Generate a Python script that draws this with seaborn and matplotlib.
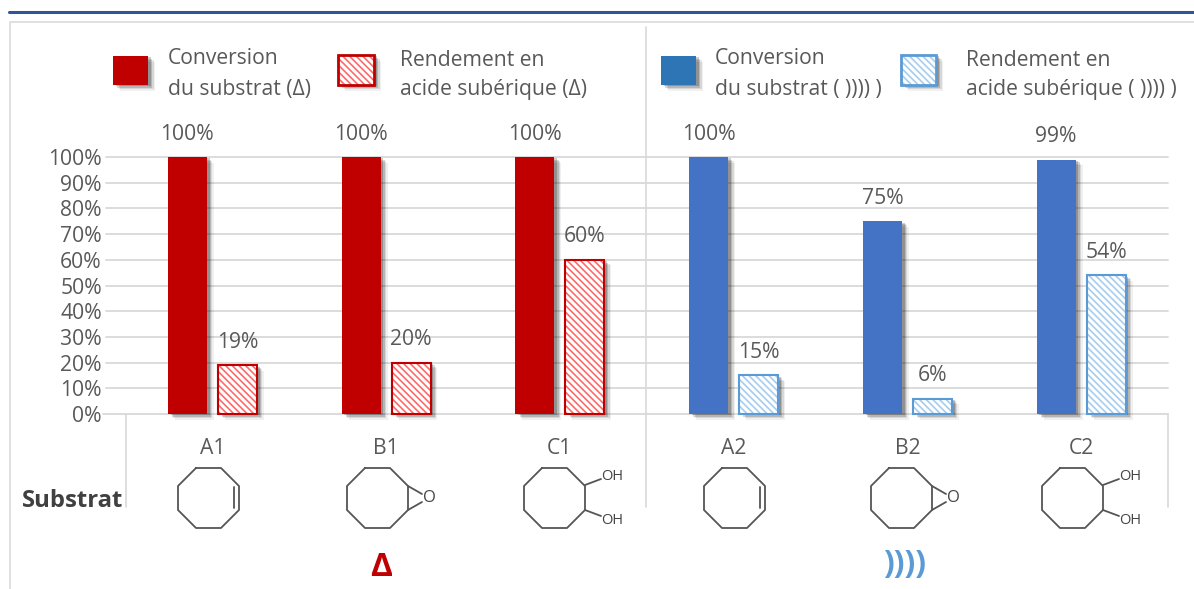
import matplotlib
matplotlib.use("Agg")
import matplotlib.pyplot as plt
import matplotlib.patheffects as pe
from matplotlib.patches import Rectangle
import pandas as pd
import seaborn as sns

CATEGORIES = ["A1", "B1", "C1", "A2", "B2", "C2"]
CONVERSION = [100, 100, 100, 100, 75, 99]
RENDEMENT = [19, 20, 60, 15, 6, 54]
Y_TICKS = list(range(0, 101, 10))

DARK_RED = "#C00000"
DARK_BLUE = "#4472C4"
LEGEND_BLUE = "#2E75B6"
EDGE_BLUE = "#5B9BD5"
HATCH_RED = "#FF6A6A"
HATCH_BLUE = "#A6CDF0"
TEXT = "#595959"
GRID = "#D9D9D9"

sns.set_theme(style="white")
plt.rcParams["font.family"] = ["Open Sans", "DejaVu Sans"]
plt.rcParams["hatch.linewidth"] = 1.2

W, H = 1194, 589
FS = 15.2
HATCH = "\\\\\\\\\\"
SHADOW = [
    pe.SimplePatchShadow(offset=(5, -4), shadow_rgbFace="#000000", alpha=0.06),
    pe.SimplePatchShadow(offset=(4, -3), shadow_rgbFace="#000000", alpha=0.10),
    pe.SimplePatchShadow(offset=(3, -2), shadow_rgbFace="#000000", alpha=0.15),
    pe.SimplePatchShadow(offset=(2, -1), shadow_rgbFace="#000000", alpha=0.20),
    pe.Normal(),
]

df = pd.DataFrame({
    "substrat": CATEGORIES * 2,
    "serie": ["Conversion"] * 6 + ["Rendement"] * 6,
    "valeur": CONVERSION + RENDEMENT,
})

fig = plt.figure(figsize=(W / 100, H / 100), dpi=100)
ax = fig.add_axes([106 / W, (H - 414) / H, 1062 / W, 257 / H])
ax.patch.set_alpha(0)

sns.barplot(data=df, x="substrat", y="valeur", hue="serie", order=CATEGORIES,
            width=0.575, gap=0.22, legend=False, ax=ax)

ax.set_xlim(-0.612, 5.5)
ax.set_ylim(0, 100)
ax.set_yticks(Y_TICKS)
ax.set_yticklabels([f"{t}%" for t in Y_TICKS], fontsize=FS, color=TEXT)
ax.tick_params(axis="y", length=0, pad=3)
ax.tick_params(axis="x", length=0, pad=17, labelsize=FS, labelcolor=TEXT)
ax.set_xlabel("")
ax.set_ylabel("")
ax.grid(axis="y", color=GRID, lw=1.3)
ax.set_axisbelow(True)
for line in ax.get_ygridlines():
    line.set_clip_on(False)
sns.despine(ax=ax, left=True, bottom=True)

for i, bar in enumerate(ax.containers[0]):
    bar.set_facecolor(DARK_RED if i < 3 else DARK_BLUE)
    bar.set_edgecolor("none")
    bar.set_path_effects(SHADOW)
    bar.set_clip_on(False)

for i, bar in enumerate(ax.containers[1]):
    bar.set_facecolor("none")
    bar.set_edgecolor(HATCH_RED if i < 3 else HATCH_BLUE)
    bar.set_hatch(HATCH)
    bar.set_linewidth(0)
    bar.set_clip_on(False)
    # plain white box underneath carries the shadow, so the hatch does not show in it
    under = Rectangle(bar.get_xy(), bar.get_width(), bar.get_height(), fc="white", ec="none",
                      clip_on=False, zorder=0.9)
    under.set_path_effects(SHADOW)
    ax.add_patch(under)
    ax.add_patch(Rectangle(bar.get_xy(), bar.get_width(), bar.get_height(), fill=False,
                           ec=DARK_RED if i < 3 else EDGE_BLUE, lw=1.5, clip_on=False, zorder=3))

for container, values in zip(ax.containers, [CONVERSION, RENDEMENT]):
    for bar, v in zip(container, values):
        ax.annotate(f"{v}%", (bar.get_x() + bar.get_width() / 2, v), xytext=(0, 16.5),
                    textcoords="offset points", ha="center", va="center",
                    fontsize=FS, color=TEXT, annotation_clip=False)

# overlay in pixel coordinates for the frame, legend and structures
ov = fig.add_axes([0, 0, 1, 1], zorder=5)
ov.set_xlim(0, W)
ov.set_ylim(H, 0)
ov.axis("off")
ov.patch.set_alpha(0)

ov.plot([9, W], [12, 12], color="#2F5597", lw=2.2)
ov.plot([10, 10, W], [H, 22, 22], color="#E0E0E0", lw=1.4)
ov.plot([126, 126], [414, 507], color=GRID, lw=1.2)
ov.plot([1168, 1168], [414, 507], color=GRID, lw=1.2)
ov.plot([646, 646], [27, 507], color=GRID, lw=1.2)
ov.plot([103, 106], [414, 414], color=GRID, lw=1.3)


def swatch(x0, y0, x1, y1, color, hatch_color=None):
    r = Rectangle((x0, y0), x1 - x0, y1 - y0, fc="white" if hatch_color else color, ec="none")
    r.set_path_effects(SHADOW)
    ov.add_patch(r)
    if hatch_color:
        ov.add_patch(Rectangle((x0, y0), x1 - x0, y1 - y0, fc="none", ec=hatch_color, lw=0, hatch=HATCH))
        ov.add_patch(Rectangle((x0, y0), x1 - x0, y1 - y0, fill=False, ec=color, lw=2))


def legend_text(x, y1, y2, line1, line2):
    ov.text(x, y1, line1, fontsize=FS, color=TEXT, va="center")
    ov.text(x, y2, line2, fontsize=FS, color=TEXT, va="center")


swatch(113, 56, 148, 85, DARK_RED)
swatch(338, 55, 374, 85, DARK_RED, HATCH_RED)
swatch(661, 56, 696, 85, LEGEND_BLUE)
swatch(901, 55, 936, 85, EDGE_BLUE, HATCH_BLUE)
legend_text(168, 59, 89, "Conversion", "du substrat (Δ)")
legend_text(400, 60, 90, "Rendement en", "acide subérique (Δ)")
legend_text(715, 59, 89, "Conversion", "du substrat ( )))) )")
legend_text(966, 60, 90, "Rendement en", "acide subérique ( )))) )")


def octagon(x):
    xs = [x + 18, x + 43, x + 61, x + 61, x + 43, x + 18, x, x, x + 18]
    ys = [468, 468, 486, 510, 528, 528, 510, 486, 468]
    ov.plot(xs, ys, color="#555555", lw=1.3, solid_joinstyle="round")


def cyclooctene(x):
    octagon(x)
    ov.plot([x + 56, x + 56], [487, 508], color="#555555", lw=1.3)


def epoxide(x):
    octagon(x)
    r = x + 61
    ov.plot([r, r + 14], [486, 494], color="#555555", lw=1.3)
    ov.plot([r, r + 14], [510, 502], color="#555555", lw=1.3)
    ov.text(r + 21, 498, "O", fontsize=12, color="#444444", ha="center", va="center")


def diol(x):
    octagon(x)
    r = x + 61
    ov.plot([r, r + 16], [485, 479], color="#555555", lw=1.3)
    ov.plot([r, r + 16], [510, 516], color="#555555", lw=1.3)
    ov.text(r + 27, 477, "OH", fontsize=10.5, color="#444444", ha="center", va="center")
    ov.text(r + 27, 520, "OH", fontsize=10.5, color="#444444", ha="center", va="center")


cyclooctene(178)
epoxide(347)
diol(524)
cyclooctene(704)
epoxide(871)
diol(1042)

ov.text(123, 501, "Substrat", fontsize=17.2, fontweight="bold", color="#404040", ha="right", va="center")
ov.text(381, 568, "Δ", fontsize=24, fontweight="bold", color=DARK_RED, ha="center", va="center")
ov.text(905, 565, "))))", fontsize=23, fontweight="bold", color=EDGE_BLUE, ha="center", va="center")

fig.savefig("out.png", dpi=100)
plt.close(fig)
